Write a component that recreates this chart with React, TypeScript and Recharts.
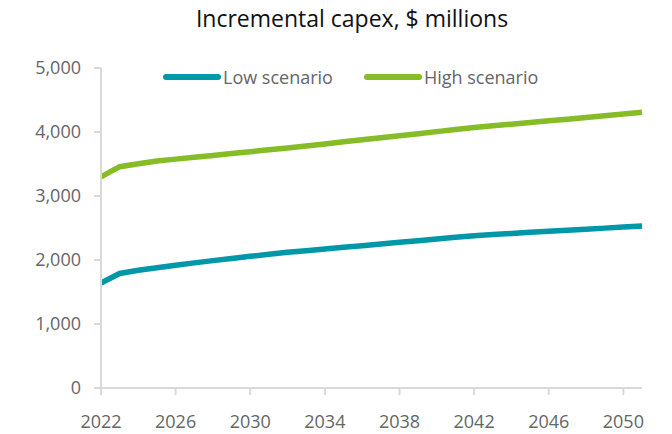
import React from 'react';
import { LineChart, Line, XAxis, YAxis, Legend } from 'recharts';

const LOW_COLOR  = '#0097A9';
const HIGH_COLOR = '#86BC25';
const AXIS       = '#d9d9d9';
const TICK       = '#666666';
const FONT       = '"Open Sans", "Noto Sans", sans-serif';

const years = [
  2022, 2023, 2024, 2025, 2026, 2027, 2028, 2029, 2030, 2031,
  2032, 2033, 2034, 2035, 2036, 2037, 2038, 2039, 2040, 2041,
  2042, 2043, 2044, 2045, 2046, 2047, 2048, 2049, 2050, 2051,
];
const low = [
  1640, 1790, 1840, 1880, 1918, 1955, 1990, 2024, 2057, 2089,
  2120, 2146, 2172, 2198, 2224, 2250, 2276, 2302, 2328, 2354,
  2380, 2398, 2415, 2432, 2448, 2465, 2482, 2498, 2515, 2531,
];
const high = [
  3300, 3458, 3505, 3547, 3576, 3605, 3634, 3663, 3692, 3721,
  3750, 3782, 3814, 3846, 3878, 3910, 3942, 3974, 4006, 4038,
  4070, 4096, 4122, 4148, 4175, 4201, 4228, 4254, 4281, 4307,
];
const yTicks = [0, 1000, 2000, 3000, 4000, 5000];

const data = years.map((y, i) => ({ year: String(y), low: low[i], high: high[i] }));

const series = [
  { key: 'low',  name: 'Low scenario',  color: LOW_COLOR },
  { key: 'high', name: 'High scenario', color: HIGH_COLOR },
];

function LegendBox() {
  return (
    <div style={{ display: 'flex', alignItems: 'center', fontFamily: FONT, fontSize: 18, color: TICK, lineHeight: '24px', whiteSpace: 'nowrap' }}>
      {series.map((s, i) => (
        <div key={s.key} style={{ display: 'flex', alignItems: 'center', marginLeft: i === 0 ? 0 : 31 }}>
          <span style={{ display: 'inline-block', width: 58, height: 6, borderRadius: 3, background: s.color }} />
          <span style={{ marginLeft: 2 }}>{s.name}</span>
        </div>
      ))}
    </div>
  );
}

export default function App() {
  return (
    <div style={{ position: 'absolute', left: 0, top: 0, width: 672, height: 434, background: '#fff' }}>
      <div style={{ position: 'absolute', left: 16, width: 672, top: 2, textAlign: 'center', fontFamily: FONT, fontSize: 23, color: '#111', lineHeight: '32px' }}>
        Incremental capex, $ millions
      </div>
      <LineChart width={672} height={434} data={data} margin={{ top: 68, right: 30, left: 0, bottom: 16 }}>
        <XAxis dataKey="year" interval={3} height={30}
               axisLine={{ stroke: AXIS, strokeWidth: 2 }} tickLine={{ stroke: AXIS, strokeWidth: 2 }}
               tickSize={7} tickMargin={20}
               tick={{ fill: TICK, fontSize: 18, fontFamily: FONT }} />
        <YAxis domain={[0, 5000]} ticks={yTicks} width={101}
               axisLine={{ stroke: AXIS, strokeWidth: 2 }} tickLine={{ stroke: AXIS, strokeWidth: 2 }}
               tickSize={7} tickMargin={13}
               tick={{ fill: TICK, fontSize: 18, fontFamily: FONT }}
               tickFormatter={v => v.toLocaleString('en-US')} />
        <Legend layout="vertical" align="center" verticalAlign="middle"
                wrapperStyle={{ top: 65, left: 163, width: 'auto' }} content={() => <LegendBox />} />
        {series.map(s => (
          <Line key={s.key} type="linear" dataKey={s.key} name={s.name} stroke={s.color}
                strokeWidth={5.5} dot={false} isAnimationActive={false} />
        ))}
      </LineChart>
    </div>
  );
}
